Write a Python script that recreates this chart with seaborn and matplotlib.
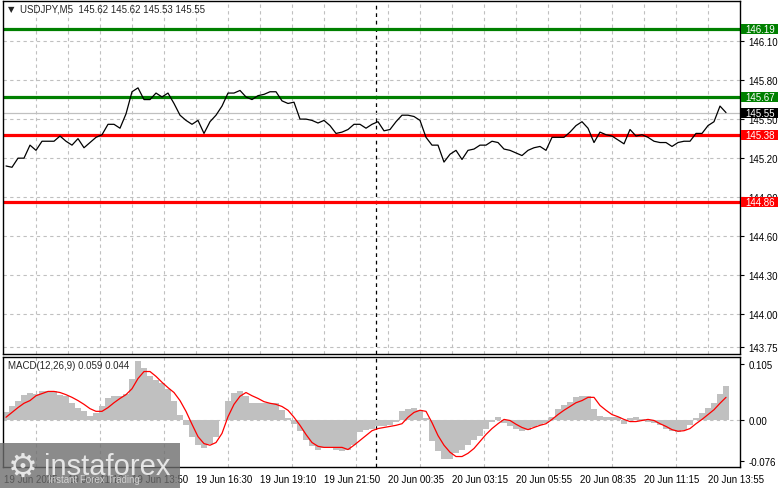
import numpy as np
import matplotlib
matplotlib.use("Agg")
import matplotlib.pyplot as plt
import matplotlib.transforms as mtrans
from matplotlib.patches import Rectangle
import seaborn as sns

# USDJPY M5 - close of every 3rd bar
close = [145.14, 145.13, 145.20, 145.20, 145.30, 145.26, 145.33, 145.33, 145.33, 145.37,
         145.33, 145.30, 145.35, 145.28, 145.32, 145.36, 145.38, 145.46, 145.46, 145.43,
         145.54, 145.71, 145.74, 145.65, 145.65, 145.70, 145.67, 145.70, 145.62, 145.53,
         145.49, 145.46, 145.49, 145.39, 145.48, 145.53, 145.60, 145.70, 145.70, 145.72,
         145.67, 145.65, 145.68, 145.69, 145.71, 145.71, 145.64, 145.62, 145.63, 145.50,
         145.50, 145.49, 145.47, 145.49, 145.45, 145.39, 145.40, 145.42, 145.46, 145.46,
         145.43, 145.46, 145.48, 145.41, 145.42, 145.48, 145.53, 145.53, 145.52, 145.49,
         145.36, 145.30, 145.30, 145.17, 145.23, 145.26, 145.19, 145.26, 145.27, 145.30,
         145.30, 145.33, 145.32, 145.27, 145.26, 145.24, 145.22, 145.26, 145.28, 145.29,
         145.26, 145.36, 145.36, 145.36, 145.40, 145.45, 145.48, 145.43, 145.32, 145.40,
         145.38, 145.37, 145.34, 145.31, 145.42, 145.37, 145.38, 145.36, 145.33, 145.32,
         145.32, 145.29, 145.32, 145.33, 145.33, 145.39, 145.39, 145.45, 145.48, 145.60,
         145.55]

# MACD(12,26,9): main (histogram) and signal line
macd_main = [0.015, 0.026, 0.037, 0.048, 0.052, 0.050, 0.054, 0.054, 0.054, 0.048,
             0.045, 0.033, 0.024, 0.017, 0.009, 0.013, 0.026, 0.041, 0.045, 0.045,
             0.050, 0.078, 0.110, 0.097, 0.082, 0.076, 0.069, 0.058, 0.037, 0.011,
             -0.009, -0.030, -0.045, -0.052, -0.043, -0.030, 0.000, 0.037, 0.052, 0.054,
             0.046, 0.033, 0.032, 0.032, 0.032, 0.032, 0.020, 0.004, -0.007, -0.020,
             -0.037, -0.048, -0.054, -0.052, -0.052, -0.054, -0.056, -0.054, -0.045, -0.022,
             -0.017, -0.015, -0.011, -0.011, -0.009, -0.002, 0.017, 0.022, 0.024, 0.019,
             0.004, -0.039, -0.056, -0.072, -0.071, -0.061, -0.054, -0.045, -0.037, -0.028,
             -0.015, -0.002, 0.007, -0.004, -0.011, -0.015, -0.019, -0.017, -0.013, -0.009,
             -0.004, 0.006, 0.022, 0.028, 0.035, 0.043, 0.046, 0.045, 0.022, 0.009,
             0.007, 0.007, 0.006, -0.006, 0.004, 0.007, 0.002, -0.002, -0.004, -0.009,
             -0.015, -0.020, -0.022, -0.017, -0.009, 0.004, 0.013, 0.024, 0.033, 0.050,
             0.064]
macd_signal = [0.006, 0.015, 0.024, 0.032, 0.037, 0.046, 0.050, 0.054, 0.054, 0.052,
               0.048, 0.043, 0.037, 0.030, 0.022, 0.017, 0.017, 0.024, 0.033, 0.041,
               0.048, 0.059, 0.078, 0.091, 0.091, 0.082, 0.071, 0.061, 0.052, 0.037,
               0.017, -0.007, -0.030, -0.043, -0.046, -0.041, -0.024, 0.007, 0.030, 0.045,
               0.052, 0.046, 0.041, 0.035, 0.032, 0.030, 0.026, 0.019, 0.006, -0.009,
               -0.026, -0.041, -0.048, -0.050, -0.050, -0.050, -0.050, -0.054, -0.046, -0.037,
               -0.028, -0.019, -0.015, -0.013, -0.011, -0.009, -0.006, 0.006, 0.015, 0.019,
               0.017, -0.004, -0.028, -0.046, -0.059, -0.067, -0.067, -0.061, -0.052, -0.039,
               -0.026, -0.015, -0.006, 0.002, 0.000, -0.007, -0.013, -0.017, -0.013, -0.009,
               -0.006, 0.002, 0.011, 0.019, 0.026, 0.033, 0.037, 0.043, 0.043, 0.028,
               0.019, 0.011, 0.007, 0.002, -0.002, -0.002, 0.000, 0.002, 0.000, -0.006,
               -0.011, -0.017, -0.020, -0.019, -0.015, -0.006, 0.002, 0.011, 0.020, 0.032,
               0.043]

time_labels = ["19 Jun 2025", "19 Jun 11:10", "19 Jun 13:50", "19 Jun 16:30",
               "19 Jun 19:10", "19 Jun 21:50", "20 Jun 00:35", "20 Jun 03:15",
               "20 Jun 05:55", "20 Jun 08:35", "20 Jun 11:15", "20 Jun 13:55"]
price_ticks = [146.10, 145.80, 145.50, 145.20, 144.90, 144.60, 144.30, 144.00, 143.75]
macd_ticks = [0.105, 0.0, -0.076]
macd_tick_labels = ["0.105", "0.00", "-0.076"]

resistance = [146.19, 145.67]
support = [145.38, 144.86]
last_price = 145.55
title_text = "USDJPY,M5  145.62 145.62 145.53 145.55"
macd_text = "MACD(12,26,9) 0.059 0.044"

# bar index of each sample (M5 bars, 3 bars apart)
bar = np.arange(len(close)) * 3 + 1
label_bars = np.arange(len(time_labels)) * 32
grid_bars = np.arange(16, 353, 16)
day_break = 186

sns.set_style("white")
plt.rcParams['font.family'] = ['Liberation Sans', 'DejaVu Sans']
plt.rcParams['font.size'] = 7

W, H = 781, 489
fig = plt.figure(figsize=(W / 100, H / 100), dpi=100)
ax = fig.add_axes([3 / W, 1 - 355 / H, 737 / W, 353 / H])
ax2 = fig.add_axes([3 / W, 1 - 467.7 / H, 737 / W, 109.7 / H])

grid_kw = dict(color="#c0c0c0", linestyle=(0, (3, 3)), linewidth=0.8)

for a in (ax, ax2):
    a.set_xlim(-0.5, 368)
    a.set_axisbelow(True)
    a.set_xticks(grid_bars, minor=True)
    a.grid(which="minor", axis="x", **grid_kw)
    a.grid(which="major", axis="x", visible=False)
    for s in a.spines.values():
        s.set_color("black")
        s.set_linewidth(1)
    a.yaxis.tick_right()
    a.tick_params(axis="y", length=3, width=0.8, pad=3, labelsize=7, colors="black")
    a.tick_params(axis="x", which="minor", length=0)
    a.axvline(day_break, color="black", linestyle=(0, (3, 3)), linewidth=0.9, zorder=1)

# price panel
ax.set_ylim(143.696, 146.407)
ax.set_yticks(price_ticks)
ax.set_yticklabels([f"{t:.2f}" for t in price_ticks])
ax.grid(which="major", axis="y", **grid_kw)
ax.tick_params(axis="x", which="both", length=0, labelbottom=False)

ax.axhline(last_price, color="#c0c0c0", linewidth=0.9, zorder=1)
for lvl in resistance:
    ax.axhline(lvl, color="#008000", linewidth=2.3, zorder=2)
for lvl in support:
    ax.axhline(lvl, color="#ff0000", linewidth=2.3, zorder=2)

sns.lineplot(x=bar, y=close, ax=ax, color="black", linewidth=0.9, zorder=3)
ax.set_xlabel("")
ax.set_ylabel("")

tr = mtrans.blended_transform_factory(ax.transAxes, ax.transData)
box_w, box_h = 37 / 737, 10 / 130.2
tags = [(l, "#008000") for l in resistance] + [(last_price, "black")] + [(l, "#ff0000") for l in support]
for lvl, col in tags:
    ax.add_patch(Rectangle((1.002, lvl - box_h / 2), box_w, box_h, transform=tr,
                           facecolor=col, edgecolor="none", clip_on=False, zorder=5))
    ax.text(1.002 + box_w / 2, lvl, f"{lvl:.2f}", transform=tr, ha="center", va="center",
            color="white", fontsize=7, zorder=6, clip_on=False)

ax.text(5 / 737, 1 - 8 / 353, "\u25bc", transform=ax.transAxes, ha="left", va="center",
        fontsize=6, family=["DejaVu Sans"])
ax.text(17 / 737, 1 - 8 / 353, title_text, transform=ax.transAxes, ha="left", va="center",
        fontsize=7)

# MACD panel
ax2.bar(bar, macd_main, width=3, color="#c0c0c0", linewidth=0, zorder=2)
sns.lineplot(x=bar, y=macd_signal, ax=ax2, color="#ff0000", linewidth=0.9, zorder=3)
ax2.set_xlabel("")
ax2.set_ylabel("")
ax2.set_ylim(-0.0859, 0.118)
ax2.set_yticks(macd_ticks)
ax2.set_yticklabels(macd_tick_labels)
ax2.axhline(0, **grid_kw, zorder=1)
ax2.set_xticks(label_bars)
ax2.set_xticklabels(time_labels, ha="left")
ax2.tick_params(axis="x", which="major", length=3, width=0.8, pad=2, labelsize=7, colors="black")
ax2.text(5 / 737, 1 - 8 / 109.7, macd_text, transform=ax2.transAxes, ha="left", va="center",
         fontsize=7)

# watermark
fig.patches.append(Rectangle((0, 0), 180 / W, 45 / H, transform=fig.transFigure,
                             facecolor="#6e6e6e", alpha=0.8, edgecolor="none", zorder=10))
fig.text(23 / W, 22 / H, "\u2699", ha="center", va="center", fontsize=24,
         color="#e6e6e6", family=["DejaVu Sans"], zorder=11)
fig.text(44 / W, 22 / H, "instaforex", ha="left", va="center", fontsize=21,
         color="#e6e6e6", zorder=11)
fig.text(48 / W, 9 / H, "Instant Forex Trading", ha="left", va="center", fontsize=7,
         color="#d0d0d0", zorder=11)

fig.savefig("out.png", dpi=100)
